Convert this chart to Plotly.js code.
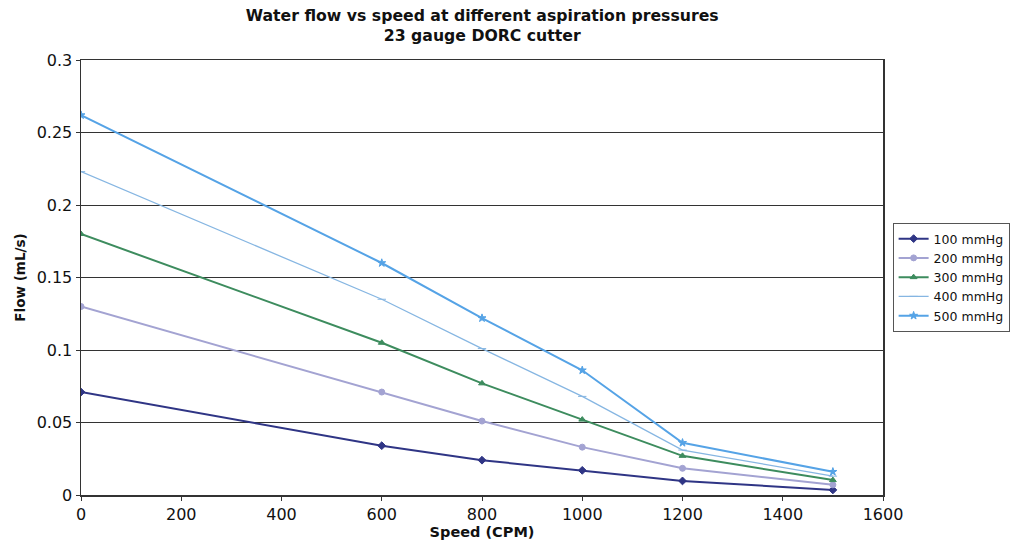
<!DOCTYPE html>
<html>
<head>
<meta charset="utf-8">
<script src="https://cdn.plot.ly/plotly-3.0.1.min.js"></script>
<style>html,body{margin:0;padding:0;background:#fff;}#chart{width:1011px;height:540px;}</style>
</head>
<body>
<div id="chart"></div>
<script>
const speed = [0, 600, 800, 1000, 1200, 1500];
const seriesNames = ["100 mmHg", "200 mmHg", "300 mmHg", "400 mmHg", "500 mmHg"];
const flow100 = [0.071, 0.034, 0.024, 0.017, 0.0097, 0.0035];
const flow200 = [0.130, 0.071, 0.051, 0.033, 0.0184, 0.007];
const flow300 = [0.180, 0.105, 0.077, 0.052, 0.027, 0.0103];
const flow400 = [0.223, 0.135, 0.101, 0.068, 0.031, 0.013];
const flow500 = [0.262, 0.160, 0.122, 0.086, 0.036, 0.016];
const yTicks = [0, 0.05, 0.1, 0.15, 0.2, 0.25, 0.3];
const yTickText = ["0", "0.05", "0.1", "0.15", "0.2", "0.25", "0.3"];
const xTicks = [0, 200, 400, 600, 800, 1000, 1200, 1400, 1600];

const colors = ["#2f3585", "#a3a3d2", "#3d8c5e", "#86b6e2", "#55a3e6"];
const symbols = ["diamond", "circle", "triangle-up", "line-ew-open", "star"];
const widths = [2, 2, 2, 1.3, 2];
const allFlows = [flow100, flow200, flow300, flow400, flow500];

const traces = allFlows.map((f, i) => ({
  x: speed, y: f, name: seriesNames[i], type: "scatter", mode: "lines+markers",
  line: {color: colors[i], width: widths[i]},
  marker: {color: colors[i], symbol: symbols[i], size: 6, line: {color: colors[i], width: 1}}
}));

const font = "DejaVu Sans, Verdana, sans-serif";
const layout = {
  width: 1011, height: 540,
  margin: {l: 81, r: 128, t: 60, b: 45, autoexpand: false},
  paper_bgcolor: "#fff", plot_bgcolor: "#fff",
  font: {family: font, color: "#111", size: 16},
  title: {text: "<b>Water flow vs speed at different aspiration pressures<br>23 gauge DORC cutter</b>",
    font: {family: font, size: 15.7, color: "#111"}, x: 0.477, xanchor: "center",
    yref: "container", y: 0.962, yanchor: "middle"},
  xaxis: {range: [0, 1600], tickvals: xTicks, ticktext: xTicks.map(String), showgrid: false, zeroline: false,
    showline: true, linecolor: "#333", linewidth: 1.5, mirror: true, ticks: "outside", ticklen: 4, tickcolor: "#333",
    tickfont: {size: 16, family: font}, title: {text: "<b>Speed (CPM)</b>", font: {size: 14.5, family: font}, standoff: 1}},
  yaxis: {range: [0, 0.3], tickvals: yTicks, ticktext: yTickText, showgrid: true, gridcolor: "#333", gridwidth: 1,
    zeroline: false, showline: true, linecolor: "#333", linewidth: 1.5, mirror: true, ticks: "outside", ticklen: 4,
    tickcolor: "#333", tickfont: {size: 16, family: font},
    title: {text: "<b>Flow (mL/s)</b>", font: {size: 13.5, family: font}, standoff: 8}},
  legend: {x: 1.012, xanchor: "left", y: 0.50, yanchor: "middle", bordercolor: "#555", borderwidth: 1,
    bgcolor: "#fff", font: {size: 12.5, family: font}, tracegroupgap: 0, itemwidth: 30},
  showlegend: true
};
Plotly.newPlot("chart", traces, layout, {displayModeBar: false, staticPlot: true});
</script>
</body>
</html>
